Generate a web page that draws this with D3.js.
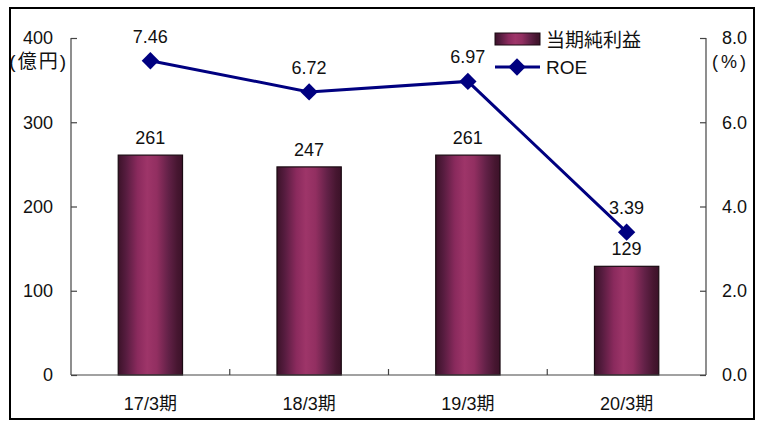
<!DOCTYPE html>
<html>
<head>
<meta charset="utf-8">
<script src="https://cdn.jsdelivr.net/npm/d3@7"></script>
<style>
  html, body { margin: 0; padding: 0; background: #fff; }
  svg text { font-family: "Liberation Sans", "Noto Sans CJK JP", sans-serif; fill: #111; }
</style>
</head>
<body>
<svg id="chart" width="759" height="424"></svg>
<script>
// Fiscal periods
const categories = ["17/3期", "18/3期", "19/3期", "20/3期"];
// Net income (億円)
const netIncome = [261, 247, 261, 129];
// Return on equity (%)
const roe = [7.46, 6.72, 6.97, 3.39];
// Axis tick values
const leftTicks = [0, 100, 200, 300, 400];
const rightTicks = [0, 2, 4, 6, 8];

const svg = d3.select("#chart");
const fontSize = 18;

const plot = { left: 71, right: 706, top: 38, bottom: 375 };

// Outer frame
svg.append("rect")
  .attr("x", 10).attr("y", 8).attr("width", 744).attr("height", 411)
  .attr("fill", "#fff").attr("stroke", "#000").attr("stroke-width", 2);

const x = d3.scaleBand().domain(categories).range([plot.left, plot.right]).paddingInner(0).paddingOuter(0);
const yL = d3.scaleLinear().domain([0, 400]).range([plot.bottom, plot.top]);
const yR = d3.scaleLinear().domain([0, 8]).range([plot.bottom, plot.top]);

// Cylinder-style shading for the bars
const defs = svg.append("defs");
const grad = defs.append("linearGradient").attr("id", "barGrad")
  .attr("x1", "0%").attr("x2", "100%").attr("y1", "0%").attr("y2", "0%");
[[0, "#3c1229"], [0.12, "#561c3f"], [0.3, "#8a2a5d"], [0.45, "#9e3569"],
 [0.6, "#922f61"], [0.78, "#622147"], [0.92, "#461630"], [1, "#3c1229"]]
  .forEach(([o, c]) => grad.append("stop").attr("offset", o).attr("stop-color", c));

// Bars
const barW = x.bandwidth() * 0.405;
svg.append("g").selectAll("rect").data(netIncome).join("rect")
  .attr("x", (d, i) => x(categories[i]) + x.bandwidth() / 2 - barW / 2)
  .attr("y", d => yL(d))
  .attr("width", barW)
  .attr("height", d => yL(0) - yL(d))
  .attr("fill", "url(#barGrad)")
  .attr("stroke", "#1a0a12").attr("stroke-width", 1.2);

// Bar value labels
svg.append("g").selectAll("text").data(netIncome).join("text")
  .attr("x", (d, i) => x(categories[i]) + x.bandwidth() / 2)
  .attr("y", d => yL(d) - 11)
  .attr("text-anchor", "middle")
  .attr("font-size", fontSize)
  .text(d => d);

// Axes
const axisColor = "#444";
const leftAxis = svg.append("g").attr("transform", `translate(${plot.left},0)`)
  .call(d3.axisLeft(yL).tickValues(leftTicks).tickSize(-6).tickPadding(18).tickFormat(d3.format("d")));
const rightAxis = svg.append("g").attr("transform", `translate(${plot.right},0)`)
  .call(d3.axisRight(yR).tickValues(rightTicks).tickSize(-6).tickPadding(16).tickFormat(d3.format(".1f")));
const bottomAxis = svg.append("g").attr("transform", `translate(0,${plot.bottom})`)
  .call(d3.axisBottom(x).tickSize(0).tickPadding(22));

[leftAxis, rightAxis, bottomAxis].forEach(g => {
  g.select(".domain").attr("stroke", axisColor).attr("stroke-width", 1.2);
  g.selectAll(".tick line").attr("stroke", axisColor).attr("stroke-width", 1.2);
  g.selectAll("text").attr("font-size", fontSize).attr("font-family", null).attr("fill", "#111");
});
leftAxis.select(".domain").attr("d", `M0,${plot.top}V${plot.bottom}`);
rightAxis.select(".domain").attr("d", `M0,${plot.top}V${plot.bottom}`);
rightAxis.selectAll("text").attr("text-anchor", "start");
bottomAxis.select(".domain").attr("d", `M${plot.left},0H${plot.right}`);

// Category separators on the baseline
svg.append("g").selectAll("line").data(categories.slice(1)).join("line")
  .attr("x1", d => x(d)).attr("x2", d => x(d))
  .attr("y1", plot.bottom).attr("y2", plot.bottom - 6)
  .attr("stroke", axisColor).attr("stroke-width", 1.2);

// Unit labels
svg.append("text").attr("x", 68).attr("y", 68).attr("text-anchor", "end")
  .attr("font-size", 19).attr("letter-spacing", 2)
  .attr("font-family", "Noto Sans CJK JP").text("(億円)");
svg.append("text").attr("x", 749).attr("y", 68).attr("text-anchor", "end")
  .attr("font-size", 18).attr("letter-spacing", 3)
  .attr("font-family", "Noto Sans CJK JP").text("(%)");

// ROE line
const cx = (d, i) => x(categories[i]) + x.bandwidth() / 2;
const line = d3.line().x((d, i) => cx(d, i)).y(d => yR(d));
svg.append("path").datum(roe).attr("d", line)
  .attr("fill", "none").attr("stroke", "#000080").attr("stroke-width", 3);

const diamond = d3.symbol().type(d3.symbolSquare).size(150);
svg.append("g").selectAll("path").data(roe).join("path")
  .attr("d", diamond)
  .attr("transform", (d, i) => `translate(${cx(d, i)},${yR(d)}) rotate(45)`)
  .attr("fill", "#000080");

svg.append("g").selectAll("text").data(roe).join("text")
  .attr("x", (d, i) => cx(d, i))
  .attr("y", d => yR(d) - 18)
  .attr("text-anchor", "middle")
  .attr("font-size", fontSize)
  .text(d => d.toFixed(2));

// Legend
const legend = svg.append("g");
legend.append("rect").attr("x", 495).attr("y", 33).attr("width", 45).attr("height", 12)
  .attr("fill", "url(#barGrad)").attr("stroke", "#1a0a12").attr("stroke-width", 1);
legend.append("text").attr("x", 546).attr("y", 47).attr("font-size", 19)
  .attr("font-family", "Noto Sans CJK JP").text("当期純利益");
legend.append("line").attr("x1", 495).attr("x2", 540).attr("y1", 67).attr("y2", 67)
  .attr("stroke", "#000080").attr("stroke-width", 3);
legend.append("path").attr("d", diamond)
  .attr("transform", "translate(517,67) rotate(45)").attr("fill", "#000080");
legend.append("text").attr("x", 546).attr("y", 74).attr("font-size", 19).text("ROE");
</script>
</body>
</html>
